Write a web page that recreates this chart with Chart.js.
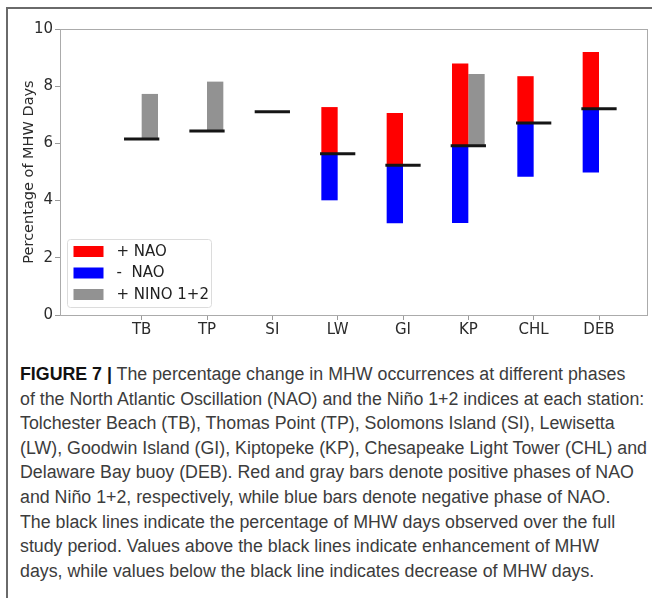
<!DOCTYPE html>
<html><head><meta charset="utf-8">
<script src="https://cdn.jsdelivr.net/npm/chart.js@4.4.1/dist/chart.umd.min.js"></script>
<style>
html,body{margin:0;padding:0;background:#fff;}
body{width:652px;height:598px;position:relative;overflow:hidden;}
#frame{position:absolute;left:6px;top:7px;width:700px;height:700px;border-left:2px solid #6a6a6a;border-top:2px solid #6a6a6a;}
#chartbox{position:absolute;left:0;top:0;width:652px;height:340px;}
#caption{position:absolute;left:20px;top:362px;font-family:"Liberation Sans",Arial,sans-serif;font-size:18px;line-height:24.6px;color:#3c3c3c;white-space:nowrap;transform-origin:0 0;}
#caption b{color:#111;}
</style></head><body>
<div id="frame"></div>
<div id="chartbox"><canvas id="c"></canvas></div>
<div id="caption">
<div class="ln"><b>FIGURE 7 |</b> The percentage change in MHW occurrences at different phases</div>
<div class="ln" id="widest">of the North Atlantic Oscillation (NAO) and the Niño 1+2 indices at each station:</div>
<div class="ln">Tolchester Beach (TB), Thomas Point (TP), Solomons Island (SI), Lewisetta</div>
<div class="ln">(LW), Goodwin Island (GI), Kiptopeke (KP), Chesapeake Light Tower (CHL) and</div>
<div class="ln">Delaware Bay buoy (DEB). Red and gray bars denote positive phases of NAO</div>
<div class="ln">and Niño 1+2, respectively, while blue bars denote negative phase of NAO.</div>
<div class="ln">The black lines indicate the percentage of MHW days observed over the full</div>
<div class="ln">study period. Values above the black lines indicate enhancement of MHW</div>
<div class="ln">days, while values below the black line indicates decrease of MHW days.</div>
</div>
<script>
// ---- data ----
const stations = ['TB', 'TP', 'SI', 'LW', 'GI', 'KP', 'CHL', 'DEB'];
const fullPeriod = [6.15, 6.43, 7.11, 5.64, 5.24, 5.92, 6.71, 7.21];
const naoPositive = [null, null, null, 7.27, 7.06, 8.79, 8.35, 9.20];
const naoNegative = [null, null, null, 4.01, 3.21, 3.22, 4.83, 4.98];
const ninoPositive = [7.73, 8.16, null, null, null, 8.43, null, null];
const yTicks = [0, 2, 4, 6, 8, 10];
const legendLabels = ['+ NAO', '-  NAO', '+ NINO 1+2'];

// fit caption width
(function(){
  const cap = document.getElementById('caption');
  const w = document.getElementById('widest').getBoundingClientRect().width;
  cap.style.transform = 'scaleX(' + (627 / w) + ')';
})();

const floatBars = (ends) => ends.map((v, i) => ({x: i, y: v == null ? null : [fullPeriod[i], v]}));

const frameAndLegend = {
  id: 'frameAndLegend',
  afterDraw(chart) {
    const {ctx, chartArea: a} = chart;
    ctx.save();
    ctx.strokeStyle = '#ababab';
    ctx.lineWidth = 1;
    ctx.strokeRect(a.left + 0.5, a.top + 0.5, a.right - a.left - 1, a.bottom - a.top);
    // legend
    const bx = a.left + 7.5, bh = 68, bw = 144, by = a.bottom - 7.5 - bh;
    ctx.fillStyle = 'rgba(255,255,255,0.8)';
    ctx.strokeStyle = '#dcdcdc';
    ctx.beginPath();
    ctx.roundRect(bx, by, bw, bh, 3);
    ctx.fill(); ctx.stroke();
    ctx.font = '15px "DejaVu Sans"';
    ctx.textBaseline = 'middle';
    for (let k = 0; k < 3; k++) {
      const ds = chart.data.datasets[k];
      const cy = by + 12 + k * 21.5;
      ctx.fillStyle = ds.backgroundColor;
      ctx.fillRect(bx + 6, cy - 5.5, 30, 11);
      ctx.fillStyle = '#222';
      ctx.fillText(legendLabels[k], bx + 49, cy + 0.5);
    }
    ctx.restore();
  }
};

new Chart(document.getElementById('c'), {
  type: 'bar',
  data: {
    datasets: [
      {label: legendLabels[0], data: floatBars(naoPositive), backgroundColor: '#ff0000', stack: 'nao', order: 2},
      {label: legendLabels[1], data: floatBars(naoNegative), backgroundColor: '#0000ff', stack: 'nao', order: 2},
      {label: legendLabels[2], data: floatBars(ninoPositive), backgroundColor: '#929292', stack: 'nino', order: 2},
      {type: 'line', label: 'Full study period', data: fullPeriod.map((v, i) => ({x: i, y: v})),
       showLine: false, pointStyle: 'line', pointBorderColor: '#151515', pointBorderWidth: 3,
       pointRadius: (ctx) => { const s = ctx.chart.scales.x; return s ? s.getPixelForValue(0.27) - s.getPixelForValue(0) : 17; },
       order: 0}
    ]
  },
  options: {
    responsive: true, maintainAspectRatio: false, animation: false, events: [],
    categoryPercentage: 0.5, barPercentage: 1.0,
    layout: {padding: {top: 29, right: 4, left: 0, bottom: 0}},
    plugins: {legend: {display: false}, tooltip: {enabled: false}},
    scales: {
      x: {
        type: 'linear', min: -1.25, max: 7.75, offset: false,
        afterBuildTicks: (axis) => { axis.ticks = stations.map((_, i) => ({value: i})); },
        afterFit: (s) => { s.height = 25; },
        ticks: {autoSkip: false, maxRotation: 0, padding: 1, color: '#2b2b2b',
                font: {family: 'DejaVu Sans', size: 15},
                callback: (v) => stations[v]},
        grid: {display: true, drawOnChartArea: false, drawTicks: true, tickLength: 5, color: '#9a9a9a', offset: false},
        border: {display: false}
      },
      y: {
        type: 'linear', min: 0, max: 10, stacked: false,
        afterBuildTicks: (axis) => { axis.ticks = yTicks.map(v => ({value: v})); },
        afterFit: (s) => { s.width = 60; },
        ticks: {padding: 2, color: '#2b2b2b', font: {family: 'DejaVu Sans', size: 15}},
        grid: {display: true, drawOnChartArea: false, drawTicks: true, tickLength: 5, color: '#9a9a9a'},
        border: {display: false},
        title: {display: true, text: 'Percentage of MHW Days', color: '#2b2b2b',
                font: {family: 'DejaVu Sans', size: 14.5}, padding: {top: 20.3, bottom: 0}}
      }
    }
  },
  plugins: [frameAndLegend]
});
</script>
</body></html>
